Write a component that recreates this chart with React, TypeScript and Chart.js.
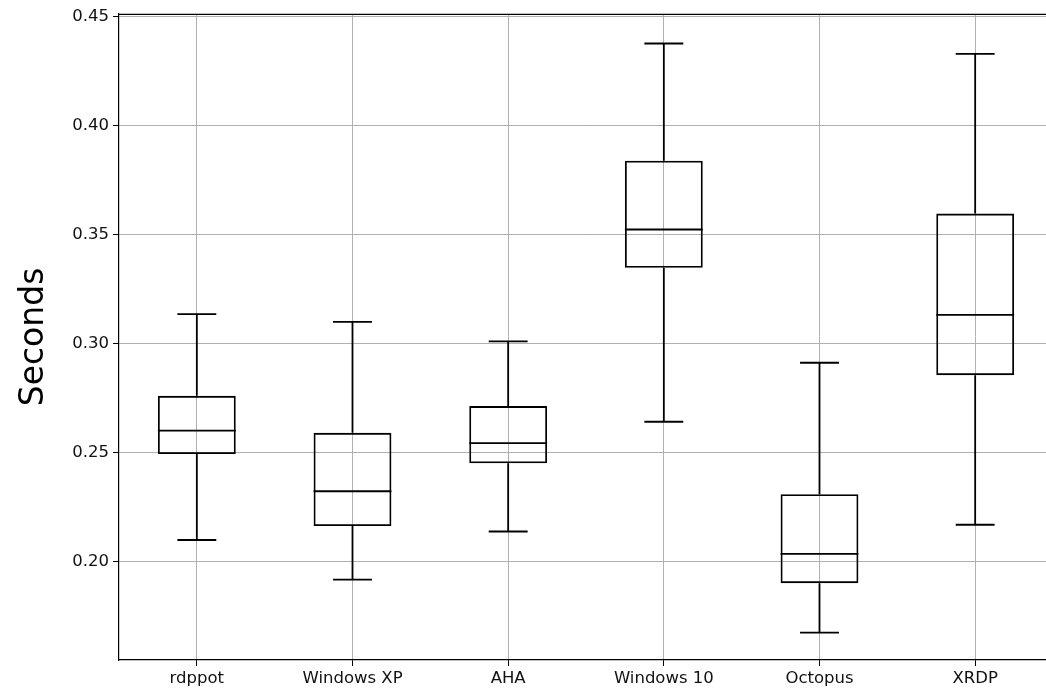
import React, { useEffect, useRef } from "react";
import { Chart, registerables } from "chart.js";
Chart.register(...registerables);

const categories = ["rdppot", "Windows XP", "AHA", "Windows 10", "Octopus", "XRDP"];
const whiskerLow = [0.2098, 0.1916, 0.2137, 0.2641, 0.1673, 0.2168];
const q1 = [0.2493, 0.2162, 0.2450, 0.3348, 0.1900, 0.2855];
const medians = [0.2600, 0.2322, 0.2543, 0.3524, 0.2034, 0.3132];
const q3 = [0.2760, 0.2590, 0.2713, 0.3840, 0.2308, 0.3597];
const whiskerHigh = [0.3135, 0.3100, 0.3010, 0.4378, 0.2912, 0.4330];
const yTicks = [0.2, 0.25, 0.3, 0.35, 0.4, 0.45];
const yMin = 0.1547;
const yMax = 0.4514;

const FONT = "'DejaVu Sans', sans-serif";

const boxPlugin = {
  id: "boxExtras",
  afterDatasetsDraw(chart: any) {
    const ctx = chart.ctx;
    const ys = chart.scales.y;
    const meta = chart.getDatasetMeta(0);
    ctx.save();
    ctx.strokeStyle = "#000";
    ctx.lineWidth = 1.8;
    meta.data.forEach((bar: any, i: number) => {
      const x = bar.x;
      const w = bar.width;
      const capW = w / 2;
      const yLo = ys.getPixelForValue(whiskerLow[i]);
      const yQ1 = ys.getPixelForValue(q1[i]);
      const yMed = ys.getPixelForValue(medians[i]);
      const yQ3 = ys.getPixelForValue(q3[i]);
      const yHi = ys.getPixelForValue(whiskerHigh[i]);
      ctx.beginPath();
      ctx.moveTo(x, yQ1);
      ctx.lineTo(x, yLo);
      ctx.moveTo(x, yQ3);
      ctx.lineTo(x, yHi);
      ctx.moveTo(x - capW / 2, yLo);
      ctx.lineTo(x + capW / 2, yLo);
      ctx.moveTo(x - capW / 2, yHi);
      ctx.lineTo(x + capW / 2, yHi);
      ctx.moveTo(x - w / 2, yMed);
      ctx.lineTo(x + w / 2, yMed);
      ctx.stroke();
    });
    ctx.restore();
  },
  afterDraw(chart: any) {
    const { ctx, chartArea } = chart;
    ctx.save();
    ctx.strokeStyle = "#000";
    ctx.lineWidth = 1.2;
    ctx.beginPath();
    ctx.moveTo(chartArea.left, chartArea.top + 0.5);
    ctx.lineTo(chartArea.right, chartArea.top + 0.5);
    ctx.moveTo(chartArea.right - 0.5, chartArea.top);
    ctx.lineTo(chartArea.right - 0.5, chartArea.bottom);
    ctx.stroke();
    ctx.restore();
  },
};

export default function App() {
  const ref = useRef<HTMLCanvasElement>(null);
  useEffect(() => {
    if (!ref.current) return;
    const chart = new Chart(ref.current, {
      type: "bar",
      data: {
        labels: categories,
        datasets: [
          {
            data: categories.map((_, i) => [q1[i], q3[i]]),
            backgroundColor: "rgba(0,0,0,0)",
            borderColor: "#000",
            borderWidth: 1.8,
            borderSkipped: false,
            barPercentage: 0.5,
            categoryPercentage: 1,
          } as any,
        ],
      },
      options: {
        responsive: false,
        animation: false,
        layout: { padding: { top: 12, right: 7, left: 0, bottom: 0 } },
        plugins: {
          legend: { display: false },
          tooltip: { enabled: false },
        },
        scales: {
          x: {
            type: "category",
            offset: true,
            grid: {
              offset: false,
              color: "#b0b0b0",
              lineWidth: 1,
              drawTicks: true,
              tickLength: 6,
              tickColor: "#000",
            },
            border: { display: true, color: "#000", width: 1.2 },
            ticks: {
              color: "#111",
              font: { family: FONT, size: 16.5 },
              padding: 3,
              maxRotation: 0,
            },
            afterFit(scale: any) {
              scale.height = 33;
            },
          },
          y: {
            type: "linear",
            min: yMin,
            max: yMax,
            grid: {
              color: "#b0b0b0",
              lineWidth: 1,
              drawTicks: true,
              tickLength: 6,
              tickColor: "#000",
            },
            border: { display: true, color: "#000", width: 1.2 },
            ticks: {
              color: "#111",
              font: { family: FONT, size: 16.5 },
              padding: 4,
              callback: (v: any) => Number(v).toFixed(2),
            },
            afterBuildTicks(scale: any) {
              scale.ticks = yTicks.map((v) => ({ value: v }));
            },
            afterFit(scale: any) {
              scale.width = 119;
            },
            title: {
              display: true,
              text: "Seconds",
              color: "#000",
              font: { family: FONT, size: 33 },
              padding: { top: 15, bottom: 0 },
            },
          },
        },
      },
      plugins: [boxPlugin],
    });
    return () => chart.destroy();
  }, []);
  return (
    <div
      style={{
        position: "fixed",
        left: 0,
        top: 0,
        width: 1046,
        height: 693,
        overflow: "hidden",
        background: "#fff",
      }}
    >
      <canvas ref={ref} width={1060} height={693} style={{ display: "block" }} />
    </div>
  );
}
